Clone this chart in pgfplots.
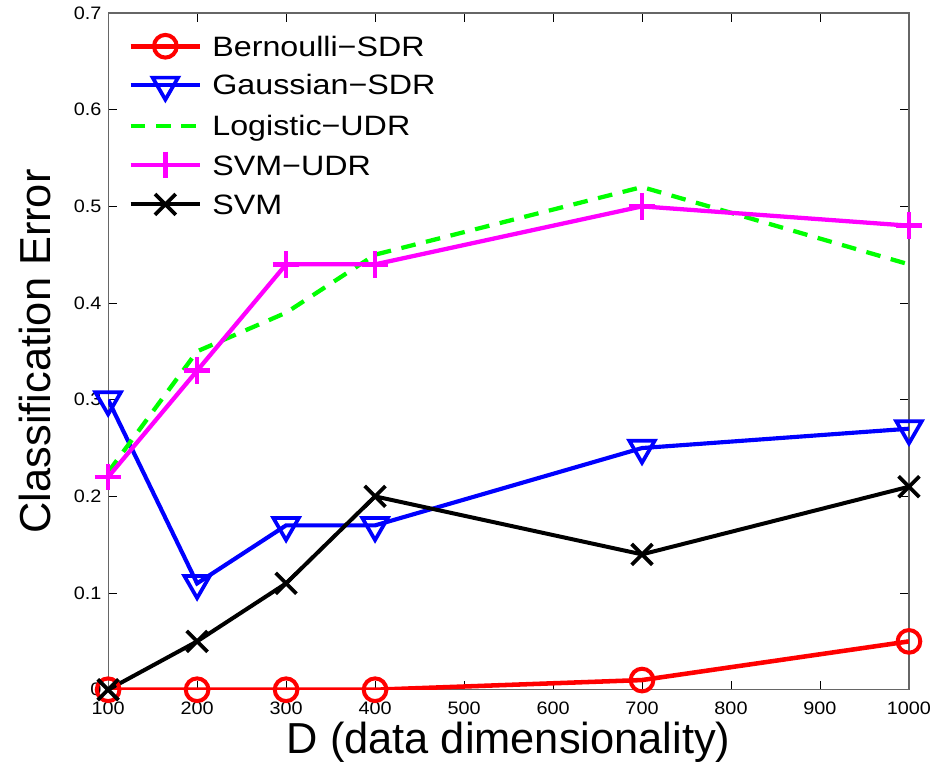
\documentclass[border=0pt]{standalone}
\usepackage{pgfplots}
\pgfplotsset{compat=1.18}
\usepackage{fontspec}
\setmainfont{Liberation Sans}
\newfontfamily\legfont[FakeStretch=1.15]{Liberation Sans}
\newfontfamily\tickfont[FakeStretch=1.1]{Liberation Sans}
\definecolor{cred}{RGB}{255,0,0}
\definecolor{cblue}{RGB}{0,0,255}
\definecolor{cgreen}{RGB}{0,255,0}
\definecolor{cmag}{RGB}{255,0,255}
\begin{document}
\begin{tikzpicture}
\begin{axis}[
  scale only axis,
  width=600pt, height=507pt,
  xmin=100, xmax=1000, ymin=0, ymax=0.7,
  xtick={100,200,...,1000},
  ytick={0,0.1,0.2,0.3,0.4,0.5,0.6,0.7},
  yticklabels={0,0.1,0.2,0.3,0.4,0.5,0.6,0.7},
  tick align=inside,
  major tick length=6.5pt,
  tick style={black, line width=0.6pt},
  axis line style={black!60, line width=0.8pt},
  /pgf/number format/assume math mode=true,
  /pgf/number format/1000 sep={},
  ticklabel style={font=\tickfont\fontsize{13.5}{16}\selectfont},
  xticklabel style={anchor=base, yshift=-18.7pt},
  yticklabel style={xshift=-1.5pt},
  xlabel={D (data dimensionality)},
  ylabel={Classification Error},
  label style={font=\fontsize{32.5}{38}\selectfont},
  xlabel style={at={(axis description cs:0.5,-0.0947)}, anchor=base},
  ylabel style={at={(axis description cs:-0.0912,0.5)}, anchor=center},
  legend style={draw=none, fill=none, font=\legfont\fontsize{21}{25}\selectfont,
    at={(axis description cs:0.025,0.97)}, anchor=north west,
    inner sep=0pt, row sep=10pt, column sep=7.5pt,
    nodes={inner sep=0pt, text height=17pt, text depth=2pt}},
  legend cell align=left,
  legend image code/.code={
    \draw[mark repeat=2,mark phase=2,#1] plot coordinates {(0pt,0pt) (26pt,0pt) (52pt,0pt)};
  },
]
\addplot[cred, line width=3.4pt, mark=o, mark size=8.5pt, mark options={line width=3pt, solid}] coordinates {
(100,0) (200,0) (300,0) (400,0) (700,0.01) (1000,0.05)};
\addlegendentry{Bernoulli−SDR}
\addplot[cblue, line width=3.1pt, mark=triangle, mark size=11pt, mark options={rotate=180, line width=2.8pt, solid}] coordinates {
(100,0.30) (200,0.11) (300,0.17) (400,0.17) (700,0.25) (1000,0.27)};
\addlegendentry{Gaussian−SDR}
\addplot[cgreen, line width=3.2pt, dash pattern=on 11pt off 8pt] coordinates {
(100,0.225) (200,0.35) (300,0.39) (400,0.45) (700,0.52) (1000,0.44)};
\addlegendentry{Logistic−UDR}
\addplot[cmag, line width=3.2pt, mark=+, mark size=10pt, mark options={line width=3.4pt, solid}] coordinates {
(100,0.22) (200,0.33) (300,0.44) (400,0.44) (700,0.50) (1000,0.48)};
\addlegendentry{SVM−UDR}
\addplot[black, line width=3pt, mark=x, mark size=11pt, mark options={line width=2.8pt, solid}] coordinates {
(100,0) (200,0.05) (300,0.11) (400,0.20) (700,0.14) (1000,0.21)};
\addlegendentry{SVM}
\end{axis}
\pgfresetboundingbox
\path (current axis.south west) ++(-81pt,-56.2pt) rectangle ([shift={(25.5pt,9.75pt)}]current axis.north east);
\end{tikzpicture}
\end{document}
